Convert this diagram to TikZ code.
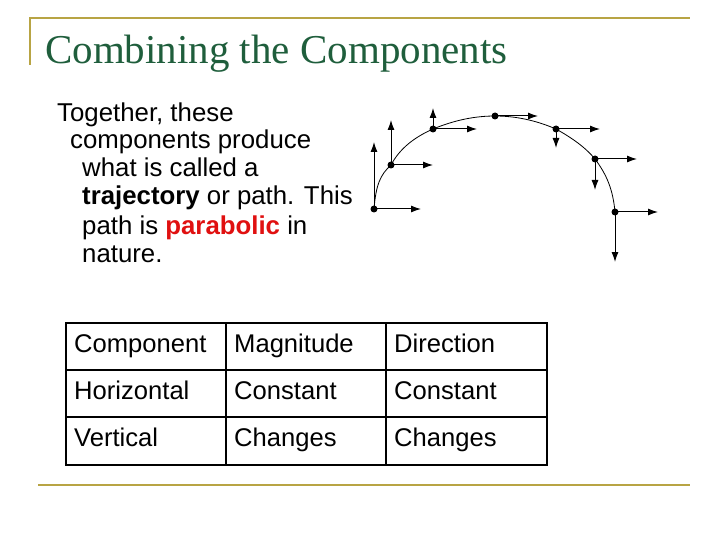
\documentclass[tikz,border=0pt]{standalone}
\usepackage{fontspec}
\setmainfont{Liberation Sans}
\newfontfamily\ttlfont{Liberation Serif}
\usetikzlibrary{arrows.meta}
\definecolor{olive}{HTML}{B8A444}
\definecolor{ttl}{HTML}{1F5E3C}
\definecolor{par}{HTML}{E01010}
\begin{document}
\begin{tikzpicture}[x=1pt,y=-1pt,
  vec/.style={-{Latex[length=10pt,width=7pt]},line width=1pt},
  dot/.style={circle,fill,inner sep=0pt,minimum size=7pt},
  body/.style={font=\fontsize{25.8}{30}\selectfont,anchor=base west,inner sep=0pt},
  cell/.style={font=\fontsize{25.6}{30}\selectfont,anchor=base west,inner sep=0pt}]
\useasboundingbox (0,0) rectangle (720,540);
\draw[olive,line width=1.8pt] (30,65) -- (30,18) -- (690,18);
\draw[olive,line width=1.8pt] (38,485) -- (690,485);
\node[anchor=base west,inner sep=0pt,text=ttl,font=\ttlfont\fontsize{41}{46}\selectfont] (title) at (45,64) {Combining the Components};
\node[body] (l1) at (57,122) {Together, these};
\node[body] (l2) at (70,149) {components produce};
\node[body] (l3) at (82,177) {what is called a};
\node[body] (l4) at (82,205) {\textbf{trajectory} or path. This};
\node[body] (l5) at (82,234) {path is \textcolor{par}{\textbf{parabolic}} in};
\node[body] (l6) at (82,262) {nature.};
% trajectory
\coordinate (p1) at (374,209);
\coordinate (p2) at (391,165);
\coordinate (p3) at (433,129);
\coordinate (p4) at (495,116);
\coordinate (p5) at (556,129);
\coordinate (p6) at (595,159);
\coordinate (p7) at (615,212);
\draw[line width=0.8pt] (p1) .. controls (376,185) and (380,175) .. (p2)
  .. controls (400,148) and (415,137) .. (p3)
  .. controls (455,120) and (475,116) .. (p4)
  .. controls (515,116) and (535,120) .. (p5)
  .. controls (572,138) and (585,147) .. (p6)
  .. controls (607,175) and (613,190) .. (p7);
\coordinate (u1) at (374,142); \coordinate (r1) at (421,209);
\coordinate (u2) at (391,120); \coordinate (r2) at (433,165);
\coordinate (u3) at (433,108); \coordinate (r3) at (477,129);
\coordinate (r4) at (538,116);
\coordinate (d5) at (556,148); \coordinate (r5) at (600,129);
\coordinate (d6) at (595,190); \coordinate (r6) at (637,159);
\coordinate (d7) at (615,262); \coordinate (r7) at (658,212);
\foreach \i in {1,2,3} {\draw[vec] (p\i) -- (u\i);}
\foreach \i in {1,...,7} {\draw[vec] (p\i) -- (r\i);}
\foreach \i in {5,6,7} {\draw[vec] (p\i) -- (d\i);}
\foreach \i in {1,...,7} {\node[dot] (q\i) at (p\i) {};}
% table
\draw[line width=1.3pt] (66,323) rectangle (547,465);
\draw[line width=1.3pt] (66,370) -- (547,370) (66,417) -- (547,417)
  (226,323) -- (226,465) (386,323) -- (386,465);
\node[cell] (c11) at (74,352) {Component};
\node[cell] (c12) at (234,352) {Magnitude};
\node[cell] (c13) at (394,352) {Direction};
\node[cell] (c21) at (74,399) {Horizontal};
\node[cell] (c22) at (234,399) {Constant};
\node[cell] (c23) at (394,399) {Constant};
\node[cell] (c31) at (74,446) {Vertical};
\node[cell] (c32) at (234,446) {Changes};
\node[cell] (c33) at (394,446) {Changes};
\end{tikzpicture}
\end{document}
